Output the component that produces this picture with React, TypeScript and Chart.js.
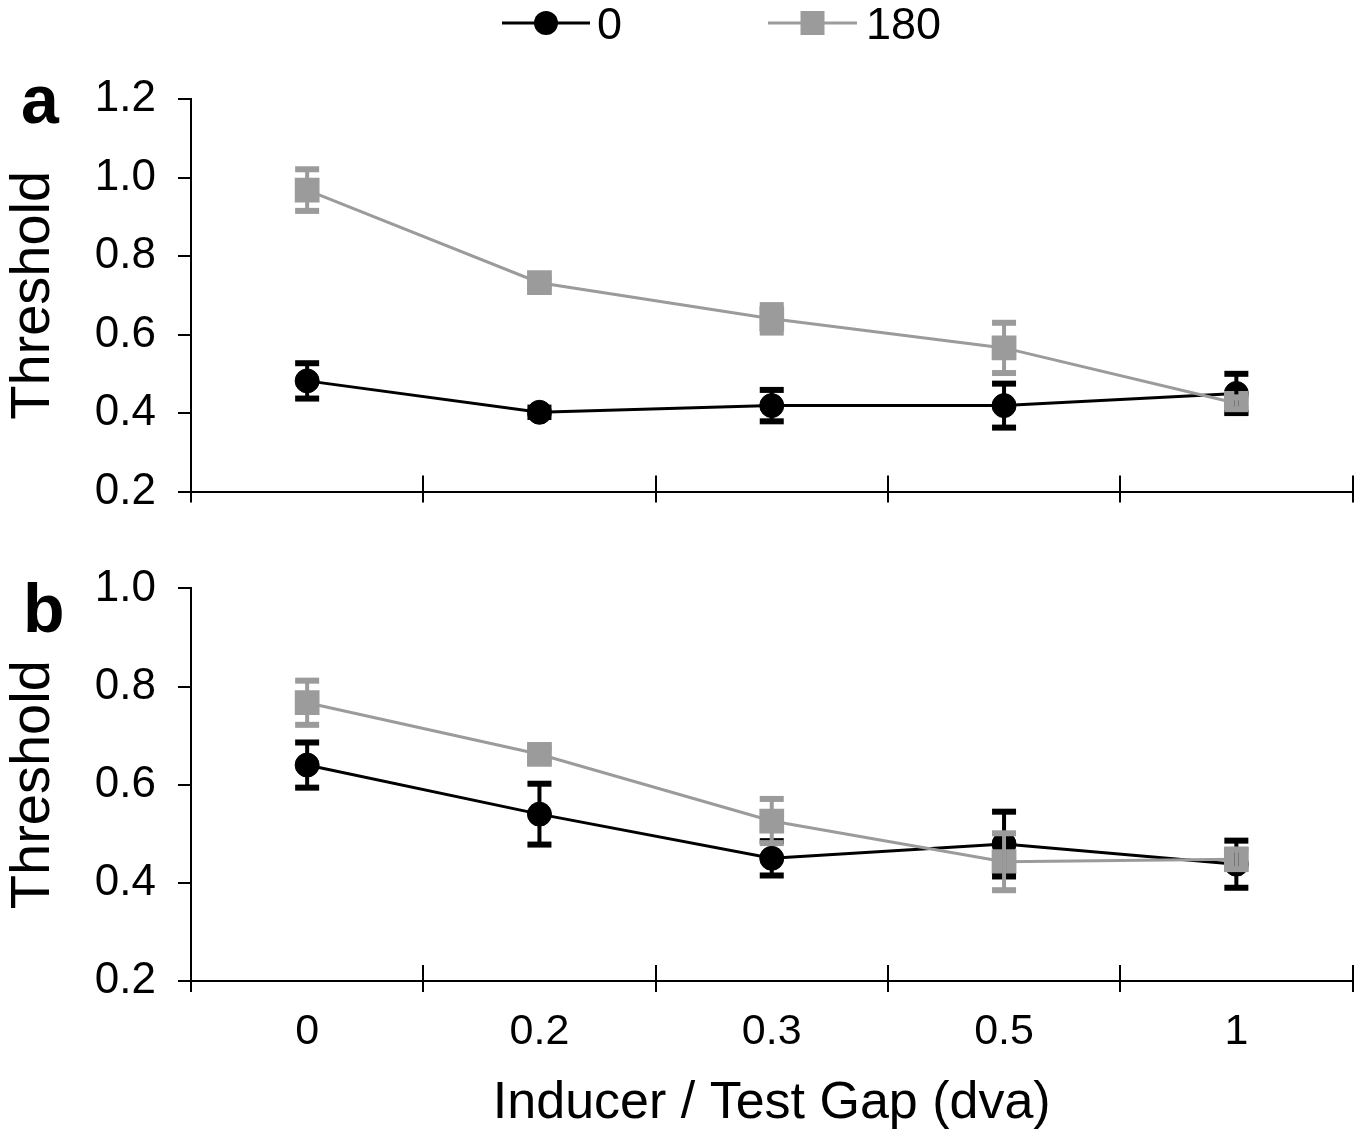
import React, { useEffect, useRef } from 'react';
import { Chart, registerables } from 'chart.js';

Chart.register(...registerables);

const FONT = '"Liberation Sans", Arial, sans-serif';

const CATEGORIES = ['0', '0.2', '0.3', '0.5', '1'];
const SERIES_NAMES = ['0', '180'];

// Panel a
const A_ZERO = [0.482, 0.402, 0.419, 0.419, 0.45];
const A_ZERO_ERR = [0.045, 0.012, 0.04, 0.056, 0.05];
const A_180 = [0.968, 0.732, 0.64, 0.566, 0.425];
const A_180_ERR = [0.053, 0.012, 0.035, 0.064, 0.015];
const Y_TICKS_A = [0.2, 0.4, 0.6, 0.8, 1.0, 1.2];

// Panel b
const B_ZERO = [0.64, 0.54, 0.45, 0.479, 0.438];
const B_ZERO_ERR = [0.046, 0.062, 0.035, 0.066, 0.048];
const B_180 = [0.767, 0.662, 0.526, 0.443, 0.448];
const B_180_ERR = [0.045, 0.012, 0.045, 0.058, 0.02];
const Y_TICKS_B = [0.2, 0.4, 0.6, 0.8, 1.0];

const BLACK = '#000000';
const GREY = '#9b9b9b';

type PanelCfg = {
  zero: number[];
  zeroErr: number[];
  grey: number[];
  greyErr: number[];
  yTicks: number[];
  letter: string;
  letterX: number;
  letterY: number;
  padTop: number;
  xHeight: number;
  showXLabels: boolean;
  showLegend: boolean;
};

function makeChart(canvas: HTMLCanvasElement, p: PanelCfg) {
  const decor = {
    id: 'decor',
    afterDatasetsDraw(chart: any) {
      const ctx = chart.ctx;
      const ys = chart.scales.y;
      // error bars: black first, then grey
      [0, 1].forEach((di) => {
        const ds = chart.data.datasets[di];
        const meta = chart.getDatasetMeta(di);
        const errs: number[] = ds.errors;
        ctx.save();
        ctx.fillStyle = ds.borderColor;
        ctx.strokeStyle = ds.borderColor;
        meta.data.forEach((pt: any, i: number) => {
          const v = ds.data[i];
          const e = errs[i];
          const yt = ys.getPixelForValue(v + e);
          const yb = ys.getPixelForValue(v - e);
          ctx.lineWidth = 4;
          ctx.beginPath();
          ctx.moveTo(pt.x, yt);
          ctx.lineTo(pt.x, yb);
          ctx.stroke();
          ctx.fillRect(pt.x - 12, yt - 3, 24, 6);
          ctx.fillRect(pt.x - 12, yb - 3, 24, 6);
        });
        ctx.restore();
      });
    },
    afterDraw(chart: any) {
      const ctx = chart.ctx;
      const xs = chart.scales.x;
      const area = chart.chartArea;
      const n = xs.ticks.length;
      const w = xs.width / n;
      ctx.save();
      ctx.strokeStyle = BLACK;
      ctx.lineWidth = 2;
      for (let i = 0; i <= n; i++) {
        const x = Math.round(xs.left + i * w);
        ctx.beginPath();
        ctx.moveTo(x, area.bottom - 16);
        ctx.lineTo(x, area.bottom);
        ctx.stroke();
      }
      // panel letter
      ctx.fillStyle = BLACK;
      ctx.font = `bold 68px ${FONT}`;
      ctx.textAlign = 'left';
      ctx.textBaseline = 'alphabetic';
      ctx.fillText(p.letter, p.letterX, p.letterY);

      if (p.showLegend) {
        const items = [
          { ds: chart.data.datasets[0], x0: 502, x1: 590, tx: 597 },
          { ds: chart.data.datasets[1], x0: 768, x1: 857, tx: 866 },
        ];
        const ly = 23;
        items.forEach((it) => {
          ctx.strokeStyle = it.ds.borderColor;
          ctx.lineWidth = 3;
          ctx.beginPath();
          ctx.moveTo(it.x0, ly);
          ctx.lineTo(it.x1, ly);
          ctx.stroke();
          ctx.fillStyle = it.ds.backgroundColor;
          const cx = (it.x0 + it.x1) / 2;
          if (it.ds.pointStyle === 'circle') {
            ctx.beginPath();
            ctx.arc(cx, ly, 12, 0, Math.PI * 2);
            ctx.fill();
          } else {
            ctx.fillRect(cx - 12, ly - 12, 24, 24);
          }
          ctx.fillStyle = BLACK;
          ctx.font = `45px ${FONT}`;
          ctx.textBaseline = 'middle';
          ctx.fillText(it.ds.label, it.tx, ly + 4);
        });
      }
      ctx.restore();
    },
  };

  return new Chart(canvas, {
    type: 'line',
    data: {
      labels: CATEGORIES,
      datasets: [
        {
          label: SERIES_NAMES[0],
          data: p.zero,
          errors: p.zeroErr,
          borderColor: BLACK,
          backgroundColor: BLACK,
          borderWidth: 3,
          pointStyle: 'circle',
          pointRadius: 12,
          pointBorderWidth: 1,
          pointBorderColor: BLACK,
          pointBackgroundColor: BLACK,
          tension: 0,
          order: 1,
        } as any,
        {
          label: SERIES_NAMES[1],
          data: p.grey,
          errors: p.greyErr,
          borderColor: GREY,
          backgroundColor: GREY,
          borderWidth: 3,
          pointStyle: 'rect',
          pointRadius: 17.5,
          pointBorderWidth: 0,
          pointBorderColor: GREY,
          pointBackgroundColor: GREY,
          tension: 0,
          order: 0,
        } as any,
      ],
    },
    options: {
      animation: false,
      responsive: false,
      devicePixelRatio: 1,
      layout: { padding: { top: p.padTop, right: 15, left: 0, bottom: 0 } },
      plugins: {
        legend: { display: false },
        tooltip: { enabled: false },
      },
      scales: {
        x: {
          type: 'category',
          offset: true,
          grid: {
            display: true,
            drawOnChartArea: false,
            drawTicks: true,
            tickLength: 11,
            offset: true,
            color: BLACK,
            lineWidth: 2,
          },
          border: { display: true, color: BLACK, width: 2 },
          ticks: {
            display: p.showXLabels,
            color: BLACK,
            font: { family: FONT, size: 43 },
            padding: 14,
            maxRotation: 0,
            autoSkip: false,
          },
          title: {
            display: p.showXLabels,
            text: 'Inducer / Test Gap (dva)',
            color: BLACK,
            font: { family: FONT, size: 52 },
            padding: { top: 0, bottom: 3 },
          },
          afterFit: (scale: any) => {
            scale.height = p.xHeight;
          },
        },
        y: {
          type: 'linear',
          min: p.yTicks[0],
          max: p.yTicks[p.yTicks.length - 1],
          afterBuildTicks: (scale: any) => {
            scale.ticks = p.yTicks.map((v) => ({ value: v }));
          },
          grid: {
            display: true,
            drawOnChartArea: false,
            drawTicks: true,
            tickLength: 13,
            color: BLACK,
            lineWidth: 2,
          },
          border: { display: true, color: BLACK, width: 2 },
          ticks: {
            color: BLACK,
            font: { family: FONT, size: 44 },
            padding: 22,
            callback: (v: any) => Number(v).toFixed(1),
          },
          title: {
            display: true,
            text: 'Threshold',
            color: BLACK,
            font: { family: FONT, size: 56 },
            padding: { top: 0, bottom: 0 },
          },
          afterFit: (scale: any) => {
            scale.width = 191;
          },
        },
      },
    } as any,
    plugins: [decor],
  });
}

export default function App() {
  const refA = useRef<HTMLCanvasElement | null>(null);
  const refB = useRef<HTMLCanvasElement | null>(null);

  useEffect(() => {
    const a = makeChart(refA.current!, {
      zero: A_ZERO,
      zeroErr: A_ZERO_ERR,
      grey: A_180,
      greyErr: A_180_ERR,
      yTicks: Y_TICKS_A,
      letter: 'a',
      letterX: 21,
      letterY: 123,
      padTop: 99,
      xHeight: 48,
      showXLabels: false,
      showLegend: true,
    });
    const b = makeChart(refB.current!, {
      zero: B_ZERO,
      zeroErr: B_ZERO_ERR,
      grey: B_180,
      greyErr: B_180_ERR,
      yTicks: Y_TICKS_B,
      letter: 'b',
      letterX: 23,
      letterY: 92,
      padTop: 45,
      xHeight: 157,
      showXLabels: true,
      showLegend: false,
    });
    return () => {
      a.destroy();
      b.destroy();
    };
  }, []);

  return (
    <div style={{ position: 'absolute', left: 0, top: 0, width: 1370, height: 1138, background: '#fff' }}>
      <canvas
        ref={refA}
        width={1370}
        height={540}
        style={{ position: 'absolute', left: 0, top: 0, width: 1370, height: 540 }}
      />
      <canvas
        ref={refB}
        width={1370}
        height={598}
        style={{ position: 'absolute', left: 0, top: 540, width: 1370, height: 598 }}
      />
    </div>
  );
}
